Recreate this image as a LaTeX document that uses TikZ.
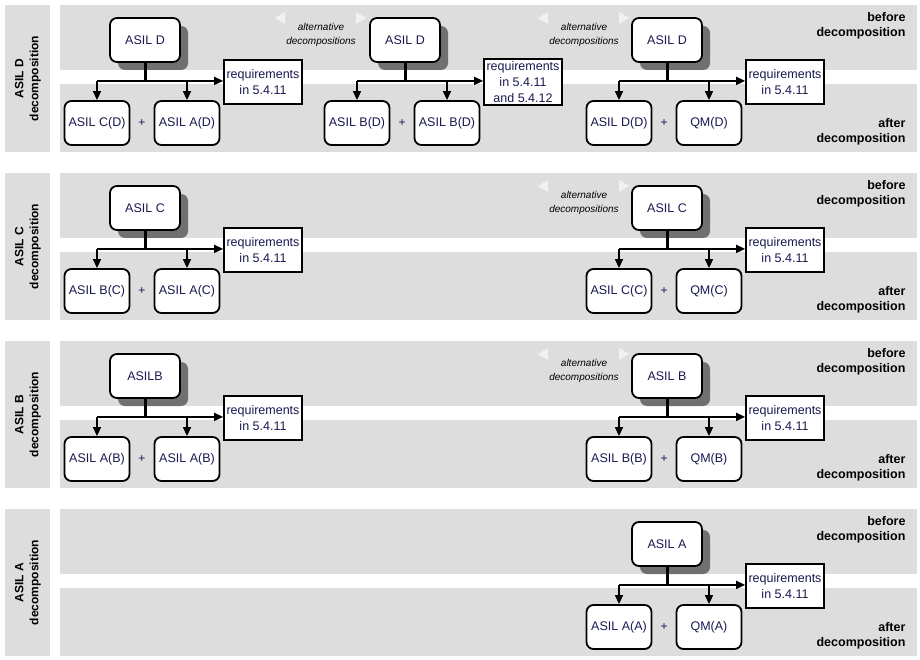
\documentclass[tikz,border=0pt]{standalone}
\usepackage{fontspec}
\setmainfont{Liberation Sans}
\usetikzlibrary{arrows.meta, positioning, calc, shadows}
\definecolor{bandgrey}{RGB}{221,221,221}
\definecolor{shadegrey}{RGB}{112,112,112}
\definecolor{tipgrey}{RGB}{241,241,241}
\definecolor{asilnavy}{RGB}{25,25,80}

% one decomposition: name, x, y, top, left, right, requirements
\newcommand{\asilgroup}[7]{%
  \node[topbox] (#1top) at (#2,#3) {#4};
  \node[subbox] (#1l) at ($(#1top)+(-48,83)$) {#5};
  \node[subbox] (#1r) at ($(#1top)+(42,83)$) {#6};
  \node[plus] (#1p) at ($(#1l)!0.5!(#1r)$) {+};
  \node[reqbox] (#1req) at ($(#1top)+(118,42)$) {#7};
  \coordinate (#1j) at ($(#1top.south)+(0,18)$);
  \draw[stem] (#1top.south) -- (#1j);
  \draw[link] (#1j -| #1l) -- (#1j -| #1req.west);
  \draw[link] (#1j -| #1l) -- (#1l.north);
  \draw[link] (#1j -| #1r) -- (#1r.north);
}

\begin{document}
\begin{tikzpicture}[x=1pt, y=-1pt,
    band/.style={fill=bandgrey, draw=none},
    bandlabel/.style={rotate=90, align=center, font=\fontsize{12}{15}\selectfont\bfseries},
    phase/.style={anchor=north east, align=right, font=\fontsize{12.5}{15}\selectfont\bfseries},
    topbox/.style={rectangle, rounded corners=7pt, draw=black, line width=1.8pt, fill=white, minimum width=70pt, minimum height=44pt, text=asilnavy, font=\fontsize{12.5}{15}\selectfont, drop shadow={shadow xshift=8pt, shadow yshift=-8pt, fill=shadegrey, opacity=1}},
    subbox/.style={rectangle, rounded corners=7pt, draw=black, line width=1.8pt, fill=white, minimum width=65pt, minimum height=44pt, inner sep=2pt, text=asilnavy, font=\fontsize{12.5}{15}\selectfont},
    reqbox/.style={rectangle, draw=black, line width=1.8pt, fill=white, minimum width=77pt, minimum height=44pt, inner sep=2.5pt, align=center, text=asilnavy, font=\fontsize{12.5}{16}\selectfont},
    plus/.style={text=asilnavy, font=\fontsize{12}{15}\selectfont},
    alt/.style={align=center, font=\fontsize{10}{14}\selectfont\itshape},
    stem/.style={line width=3pt},
    link/.style={line width=1.6pt, -{Triangle[length=9pt, width=8pt]}}
  ]
  \useasboundingbox (0,0) rectangle (920,660);

  % bands
  \foreach \k/\lname in {0/ASIL D, 1/ASIL C, 2/ASIL B, 3/ASIL A} {
    \pgfmathsetmacro{\yo}{5+168*\k}
    \fill[band] (5,\yo) rectangle (50,\yo+147);
    \fill[band] (60,\yo) rectangle (917,\yo+65);
    \fill[band] (60,\yo+79) rectangle (917,\yo+147);
    \node[bandlabel] (label\k) at (28,\yo+73.5) {\lname\\decomposition};
    \node[phase] (before\k) at (909,\yo+4) {before\\decomposition};
    \node[phase] (after\k) at (909,\yo+110) {after\\decomposition};
  }

  % alternative decompositions
  \foreach \n/\ax/\ay in {a/321/5, b/584/5, c/584/173, d/584/341} {
    \node[alt] (alt\n) at (\ax,\ay+30) {alternative\\decompositions};
    \fill[tipgrey] (\ax-36,\ay+7) -- (\ax-36,\ay+19) -- (\ax-46,\ay+13) -- cycle;
    \fill[tipgrey] (\ax+35,\ay+7) -- (\ax+35,\ay+19) -- (\ax+45,\ay+13) -- cycle;
  }

  % ASIL D
  \asilgroup{da}{145}{40}{ASIL D}{ASIL C(D)}{ASIL A(D)}{requirements\\in 5.4.11}
  \asilgroup{db}{405}{40}{ASIL D}{ASIL B(D)}{ASIL B(D)}{requirements\\in 5.4.11\\and 5.4.12}
  \asilgroup{dc}{667}{40}{ASIL D}{ASIL D(D)}{QM(D)}{requirements\\in 5.4.11}
  % ASIL C
  \asilgroup{ca}{145}{208}{ASIL C}{ASIL B(C)}{ASIL A(C)}{requirements\\in 5.4.11}
  \asilgroup{cc}{667}{208}{ASIL C}{ASIL C(C)}{QM(C)}{requirements\\in 5.4.11}
  % ASIL B
  \asilgroup{ba}{145}{376}{ASILB}{ASIL A(B)}{ASIL A(B)}{requirements\\in 5.4.11}
  \asilgroup{bc}{667}{376}{ASIL B}{ASIL B(B)}{QM(B)}{requirements\\in 5.4.11}
  % ASIL A
  \asilgroup{ac}{667}{544}{ASIL A}{ASIL A(A)}{QM(A)}{requirements\\in 5.4.11}
\end{tikzpicture}
\end{document}
